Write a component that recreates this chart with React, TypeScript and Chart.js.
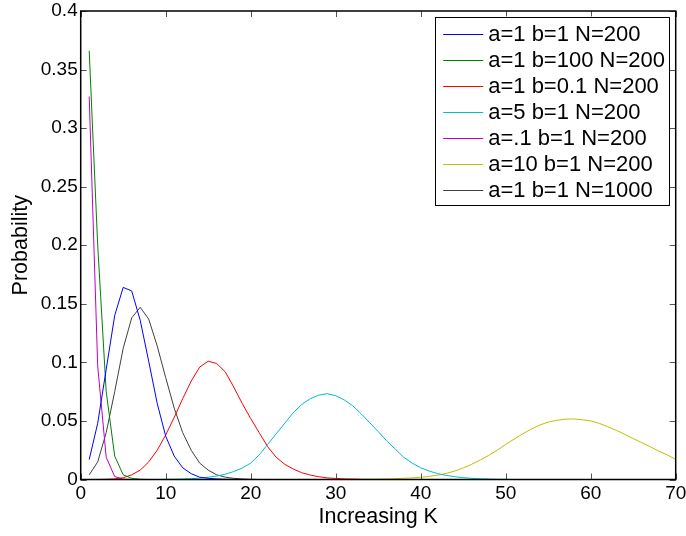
import React, { useEffect, useRef } from "react";
import { Chart, registerables } from "chart.js";

Chart.register(...registerables);

const K_VALUES = Array.from({ length: 70 }, (_, i) => i + 1);

const SERIES_LABELS = [
  "a=1 b=1 N=200",
  "a=1 b=100 N=200",
  "a=1 b=0.1 N=200",
  "a=5 b=1 N=200",
  "a=.1 b=1 N=200",
  "a=10 b=1 N=200",
  "a=1 b=1 N=1000",
];

const SERIES_COLORS = ["#0000ff", "#008000", "#ff0000", "#00bfbf", "#bf00bf", "#bfbf00", "#404040"];

// values for K = 1..70
const blueA1B1N200 = [
  0.017, 0.048, 0.094, 0.140, 0.164, 0.161, 0.136, 0.101, 0.065, 0.037,
  0.020, 0.010, 0.005, 0.002, 0.001, 0.0005, 0.0002, 0.0001, 0, 0,
  0, 0, 0, 0, 0, 0, 0, 0, 0, 0,
  0, 0, 0, 0, 0, 0, 0, 0, 0, 0,
  0, 0, 0, 0, 0, 0, 0, 0, 0, 0,
  0, 0, 0, 0, 0, 0, 0, 0, 0, 0,
  0, 0, 0, 0, 0, 0, 0, 0, 0, 0,
];

const greenA1B100N200 = [
  0.366, 0.200, 0.075, 0.020, 0.004, 0.001, 0.0002, 0, 0, 0,
  0, 0, 0, 0, 0, 0, 0, 0, 0, 0,
  0, 0, 0, 0, 0, 0, 0, 0, 0, 0,
  0, 0, 0, 0, 0, 0, 0, 0, 0, 0,
  0, 0, 0, 0, 0, 0, 0, 0, 0, 0,
  0, 0, 0, 0, 0, 0, 0, 0, 0, 0,
  0, 0, 0, 0, 0, 0, 0, 0, 0, 0,
];

const redA1B01N200 = [
  0, 0, 0.0002, 0.0005, 0.0015, 0.004, 0.008, 0.015, 0.025, 0.038,
  0.053, 0.069, 0.084, 0.096, 0.101, 0.099, 0.092, 0.079, 0.065, 0.052,
  0.040, 0.028, 0.019, 0.013, 0.009, 0.0058, 0.0038, 0.0024, 0.0014, 0.0009,
  0.0005, 0.0003, 0.0001, 0, 0, 0, 0, 0, 0, 0,
  0, 0, 0, 0, 0, 0, 0, 0, 0, 0,
  0, 0, 0, 0, 0, 0, 0, 0, 0, 0,
  0, 0, 0, 0, 0, 0, 0, 0, 0, 0,
];

const cyanA5B1N200 = [
  0, 0, 0, 0, 0, 0, 0, 0, 0, 0.0001,
  0.0002, 0.0004, 0.0007, 0.0012, 0.002, 0.003, 0.0045, 0.0068, 0.0098, 0.014,
  0.021, 0.030, 0.039, 0.048, 0.057, 0.064, 0.069, 0.072, 0.0733, 0.0715,
  0.068, 0.063, 0.056, 0.0485, 0.041, 0.033, 0.026, 0.019, 0.014, 0.010,
  0.0072, 0.005, 0.0035, 0.0024, 0.0016, 0.001, 0.0006, 0.0004, 0.0002, 0.0001,
  0, 0, 0, 0, 0, 0, 0, 0, 0, 0,
  0, 0, 0, 0, 0, 0, 0, 0, 0, 0,
];

const magentaA01B1N200 = [
  0.327, 0.097, 0.019, 0.0025, 0.0003, 0, 0, 0, 0, 0,
  0, 0, 0, 0, 0, 0, 0, 0, 0, 0,
  0, 0, 0, 0, 0, 0, 0, 0, 0, 0,
  0, 0, 0, 0, 0, 0, 0, 0, 0, 0,
  0, 0, 0, 0, 0, 0, 0, 0, 0, 0,
  0, 0, 0, 0, 0, 0, 0, 0, 0, 0,
  0, 0, 0, 0, 0, 0, 0, 0, 0, 0,
];

const yellowA10B1N200 = [
  0, 0, 0, 0, 0, 0, 0, 0, 0, 0,
  0, 0, 0, 0, 0, 0, 0, 0, 0, 0,
  0, 0, 0, 0, 0, 0, 0, 0, 0.0001, 0.0001,
  0.0001, 0.0002, 0.0002, 0.0003, 0.0004, 0.0005, 0.0007, 0.001, 0.0014, 0.0019,
  0.0027, 0.0037, 0.0052, 0.0072, 0.0098, 0.013, 0.0166, 0.0206, 0.025, 0.030,
  0.0345, 0.039, 0.043, 0.0465, 0.049, 0.0505, 0.0515, 0.0517, 0.051, 0.050,
  0.048, 0.045, 0.042, 0.0386, 0.035, 0.0314, 0.028, 0.0243, 0.021, 0.0172,
];

const blackA1B1N1000 = [
  0.004, 0.015, 0.040, 0.075, 0.112, 0.138, 0.147, 0.137, 0.114, 0.087,
  0.061, 0.040, 0.025, 0.014, 0.008, 0.004, 0.002, 0.001, 0.0005, 0.0002,
  0, 0, 0, 0, 0, 0, 0, 0, 0, 0,
  0, 0, 0, 0, 0, 0, 0, 0, 0, 0,
  0, 0, 0, 0, 0, 0, 0, 0, 0, 0,
  0, 0, 0, 0, 0, 0, 0, 0, 0, 0,
  0, 0, 0, 0, 0, 0, 0, 0, 0, 0,
];

const SERIES_VALUES = [
  blueA1B1N200,
  greenA1B100N200,
  redA1B01N200,
  cyanA5B1N200,
  magentaA01B1N200,
  yellowA10B1N200,
  blackA1B1N1000,
];

const X_MIN = 0;
const X_MAX = 70;
const X_STEP = 10;
const Y_MIN = 0;
const Y_MAX = 0.4;
const Y_STEP = 0.05;

const X_TITLE = "Increasing K";
const Y_TITLE = "Probability";

const FONT = "'Liberation Sans', Arial, Helvetica, sans-serif";

const boxAndLegendPlugin = {
  id: "boxAndLegend",
  afterDatasetsDraw(chart: any) {
    const { ctx, chartArea } = chart;
    const { left, right, top, bottom } = chartArea;
    ctx.save();
    // inward ticks
    ctx.strokeStyle = "#555";
    ctx.lineWidth = 1;
    const tl = 6;
    const xs = chart.scales.x;
    const ys = chart.scales.y;
    xs.ticks.forEach((t: any) => {
      const px = Math.round(xs.getPixelForValue(t.value)) + 0.5;
      ctx.beginPath();
      ctx.moveTo(px, bottom);
      ctx.lineTo(px, bottom - tl);
      ctx.moveTo(px, top);
      ctx.lineTo(px, top + tl);
      ctx.stroke();
    });
    ys.ticks.forEach((t: any) => {
      const py = Math.round(ys.getPixelForValue(t.value)) + 0.5;
      ctx.beginPath();
      ctx.moveTo(left, py);
      ctx.lineTo(left + tl, py);
      ctx.moveTo(right, py);
      ctx.lineTo(right - tl, py);
      ctx.stroke();
    });
    // box
    ctx.strokeStyle = "#000";
    ctx.lineWidth = 1.5;
    ctx.strokeRect(left, top, right - left, bottom - top);

    // legend
    const lw = 234;
    const lh = 188;
    const lx = right - 6.5 - lw;
    const ly = top + 5.5;
    ctx.fillStyle = "#fff";
    ctx.fillRect(lx, ly, lw, lh);
    ctx.strokeStyle = "#000";
    ctx.lineWidth = 1;
    ctx.strokeRect(Math.round(lx) + 0.5, Math.round(ly) + 0.5, lw, lh);
    ctx.font = `22px ${FONT}`;
    ctx.textBaseline = "middle";
    ctx.textAlign = "left";
    SERIES_LABELS.forEach((label, i) => {
      const cy = ly + 17 + i * 26;
      ctx.strokeStyle = SERIES_COLORS[i];
      ctx.lineWidth = 1;
      ctx.beginPath();
      ctx.moveTo(lx + 8, Math.round(cy) + 0.5);
      ctx.lineTo(lx + 48, Math.round(cy) + 0.5);
      ctx.stroke();
      ctx.fillStyle = "#000";
      ctx.fillText(label, lx + 53, cy + 1);
    });
    ctx.restore();
  },
};

export default function App() {
  const ref = useRef<HTMLCanvasElement | null>(null);

  useEffect(() => {
    if (!ref.current) return;
    Chart.defaults.font.family = FONT;
    const datasets = SERIES_LABELS.map((label, i) => ({
      label,
      data: K_VALUES.map((k, j) => ({ x: k, y: SERIES_VALUES[i][j] })),
      borderColor: SERIES_COLORS[i],
      backgroundColor: SERIES_COLORS[i],
      borderWidth: 1,
      pointRadius: 0,
      tension: 0,
      fill: false,
    }));
    const chart = new Chart(ref.current, {
      type: "line",
      data: { datasets },
      options: {
        responsive: false,
        animation: false,
        events: [],
        layout: { padding: { top: 11, right: 10.3, left: 0, bottom: 0 } },
        plugins: {
          legend: { display: false },
          tooltip: { enabled: false },
          title: { display: false },
        },
        scales: {
          x: {
            type: "linear",
            min: X_MIN,
            max: X_MAX,
            grid: { display: false, drawTicks: false },
            border: { display: false },
            ticks: {
              stepSize: X_STEP,
              color: "#000",
              font: { size: 19, lineHeight: 1.1 },
              padding: 4,
              maxRotation: 0,
            },
            title: {
              display: true,
              text: X_TITLE,
              color: "#000",
              font: { size: 21.5 },
              padding: { top: 0, bottom: 6 },
            },
            afterFit: (s: any) => {
              s.height = 56.5;
              s.paddingLeft = 0;
              s.paddingRight = 0;
            },
          },
          y: {
            type: "linear",
            min: Y_MIN,
            max: Y_MAX,
            grid: { display: false, drawTicks: false },
            border: { display: false },
            ticks: {
              stepSize: Y_STEP,
              color: "#000",
              font: { size: 19, lineHeight: 1.1 },
              padding: 3,
              callback: (v: any) => String(Number(Number(v).toFixed(2))),
            },
            title: {
              display: true,
              text: Y_TITLE,
              color: "#000",
              font: { size: 21.5 },
              padding: { top: 8, bottom: 0 },
            },
            afterFit: (s: any) => {
              s.width = 80.7;
              s.paddingTop = 0;
              s.paddingBottom = 0;
            },
          },
        },
      },
      plugins: [boxAndLegendPlugin],
    });
    return () => chart.destroy();
  }, []);

  return (
    <div style={{ position: "absolute", left: 0, top: 0, width: 686, height: 536, background: "#fff" }}>
      <canvas ref={ref} width={686} height={536} style={{ display: "block" }} />
    </div>
  );
}
